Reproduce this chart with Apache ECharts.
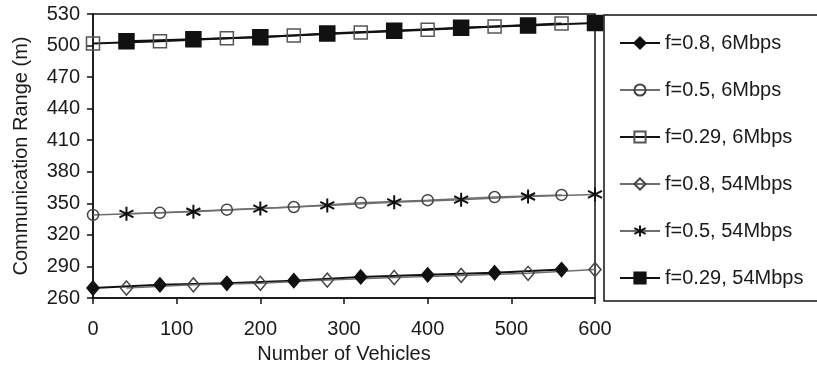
<!DOCTYPE html>
<html>
<head>
<meta charset="utf-8">
<script src="https://cdn.jsdelivr.net/npm/echarts@6/dist/echarts.min.js"></script>
<style>
html,body{margin:0;padding:0;background:#fff;}
#c{width:817px;height:369px;}
</style>
</head>
<body>
<div id="c"></div>
<script>
// x positions (number of vehicles)
var xEven = [0, 80, 160, 240, 320, 400, 480, 560];
var xOdd = [40, 120, 200, 280, 360, 440, 520, 600];
// communication range values (m)
var f08_6 = [269.5, 272.5, 274, 276.5, 280, 282, 284, 287];
var f05_6 = [339, 341, 344, 346.5, 350.5, 353, 356, 358];
var f029_6 = [502, 504, 507, 509.5, 512.5, 515, 518, 521];
var f08_54 = [269.5, 272.5, 274, 277, 279.5, 281.5, 283.5, 287];
var f05_54 = [340, 342, 345, 348, 351, 353.5, 356.5, 358.5];
var f029_54 = [504, 506, 508, 511.5, 514, 517, 519, 521.5];
var seriesNames = ['f=0.8, 6Mbps', 'f=0.5, 6Mbps', 'f=0.29, 6Mbps', 'f=0.8, 54Mbps', 'f=0.5, 54Mbps', 'f=0.29, 54Mbps'];
var yTicks = [260, 290, 320, 350, 380, 410, 440, 470, 500, 530];
var xTicks = [0, 100, 200, 300, 400, 500, 600];

var FONT = "'Liberation Sans', Arial, sans-serif";
var BLACK = '#111';
var GREY = '#6e6e6e';
var STAR = 'path://M10,0 L10,20 M1.34,5 L18.66,15 M1.34,15 L18.66,5';

function pairs(xs, ys) { return xs.map(function (x, i) { return [x, ys[i]]; }); }

function mk(name, xs, ys, symbol, size, lineColor, fill, border, lw, bw) {
  return {
    name: name, type: 'line', data: pairs(xs, ys),
    symbol: symbol, symbolSize: size, showSymbol: true,
    lineStyle: { color: lineColor, width: lw },
    itemStyle: { color: fill, borderColor: border, borderWidth: bw || 1.5 },
    emphasis: { disabled: true },
    animation: false, z: 3
  };
}

var chart = echarts.init(document.getElementById('c'), null, { renderer: 'canvas' });
chart.setOption({
  animation: false,
  backgroundColor: '#fff',
  textStyle: { fontFamily: FONT },
  grid: { left: 93, right: 222, top: 14, bottom: 71, show: true, borderColor: BLACK, borderWidth: 1.5, backgroundColor: 'transparent' },
  legend: {
    orient: 'vertical', left: 604, top: 15,
    padding: [18, 40, 13, 15], itemGap: 27, itemWidth: 40, itemHeight: 14,
    borderColor: BLACK, borderWidth: 1.5,
    textStyle: { fontSize: 20, color: '#1a1a1a', fontFamily: FONT },
    data: seriesNames
  },
  xAxis: {
    type: 'value', min: 0, max: 600, interval: 100,
    name: 'Number of Vehicles', nameLocation: 'middle', nameGap: 46,
    nameTextStyle: { fontSize: 20, color: '#1a1a1a', fontFamily: FONT },
    axisLine: { show: true, lineStyle: { color: BLACK, width: 1.5 } },
    axisTick: { show: true, length: 6, lineStyle: { color: BLACK, width: 1.5 } },
    axisLabel: { fontSize: 20, color: '#1a1a1a', margin: 21, fontFamily: FONT, customValues: xTicks },
    splitLine: { show: false }
  },
  yAxis: {
    type: 'value', min: 260, max: 530,
    name: 'Communication Range (m)', nameLocation: 'middle', nameGap: 62, nameRotate: 90,
    nameTextStyle: { fontSize: 20, color: '#1a1a1a', fontFamily: FONT },
    axisLine: { show: true, lineStyle: { color: BLACK, width: 1.5 } },
    axisTick: { show: true, length: 6, customValues: yTicks, lineStyle: { color: BLACK, width: 1.5 } },
    axisLabel: { fontSize: 20, color: '#1a1a1a', margin: 13, fontFamily: FONT, customValues: yTicks },
    splitLine: { show: false }
  },
  series: [
    mk(seriesNames[0], xEven, f08_6, 'diamond', [12, 14], BLACK, BLACK, BLACK, 2),
    mk(seriesNames[1], xEven, f05_6, 'circle', 11, GREY, 'transparent', '#444', 1.5),
    mk(seriesNames[2], xEven, f029_6, 'rect', 13, BLACK, 'transparent', '#555', 2),
    mk(seriesNames[3], xOdd, f08_54, 'diamond', [12, 14], GREY, 'transparent', '#444', 1.5),
    mk(seriesNames[4], xOdd, f05_54, STAR, 14, GREY, 'transparent', BLACK, 1.5, 2),
    mk(seriesNames[5], xOdd, f029_54, 'rect', 15, BLACK, BLACK, BLACK, 2)
  ]
});
</script>
</body>
</html>
